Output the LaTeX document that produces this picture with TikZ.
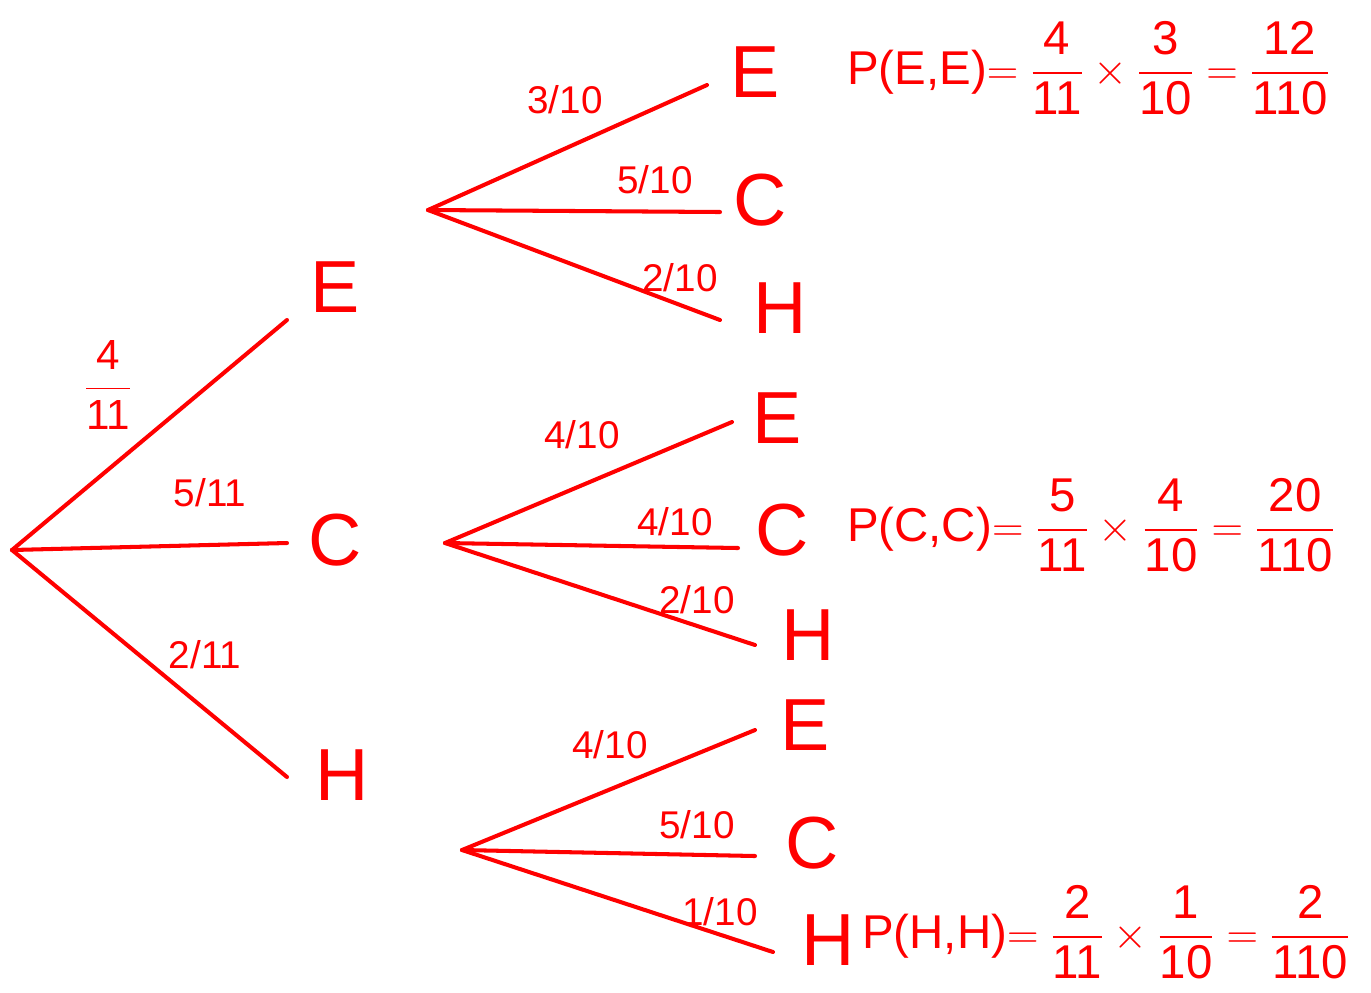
\documentclass[tikz,border=0pt]{standalone}
\usepackage{amsmath}
\usepackage{fontspec}
\setmainfont{Liberation Sans}
\usetikzlibrary{positioning, calc}
\definecolor{clrink}{HTML}{FF0000}
\newcommand{\fr}[2]{\dfrac{\textnormal{#1}}{\textnormal{#2}}}

\begin{document}
\begin{tikzpicture}[
    x=0.02cm, y=-0.02cm,
    every node/.style={text=clrink, inner sep=1pt},
    branch/.style={draw=clrink, line width=2.3pt, line cap=round},
    leaf/.style={font=\fontsize{42}{46}\selectfont},
    prob/.style={font=\fontsize{22}{24}\selectfont},
    eqn/.style={font=\fontsize{27}{30}\selectfont, anchor=west, color=clrink},
]
\useasboundingbox (0,0) rectangle (1371,992);
% first stage
\coordinate (r_0) at (12,550);
\coordinate (t_1) at (287,320);
\coordinate (t_2) at (287,543);
\coordinate (t_3) at (287,777);
\node[leaf] (n_1) at (335,287) {E};
\node[leaf] (n_2) at (335,540) {C};
\node[leaf] (n_3) at (342,775) {H};
\draw[branch] (r_0) -- (t_1);
\draw[branch] (r_0) -- (t_2);
\draw[branch] (r_0) -- (t_3);
\node[prob, font=\fontsize{24}{26}\selectfont, color=clrink] (p_1) at (108,385) {$\fr{4}{11}$};
\node[prob] (p_2) at (210,493) {5/11};
\node[prob] (p_3) at (205,655) {2/11};
% second stage after E
\coordinate (r_1) at (428,210);
\coordinate (t_11) at (707,85);
\coordinate (t_12) at (720,212);
\coordinate (t_13) at (720,320);
\node[leaf] (n_11) at (755,72) {E};
\node[leaf] (n_12) at (760,200) {C};
\node[leaf] (n_13) at (780,308) {H};
\draw[branch] (r_1) -- (t_11);
\draw[branch] (r_1) -- (t_12);
\draw[branch] (r_1) -- (t_13);
\node[prob] (p_11) at (565,100) {3/10};
\node[prob] (p_12) at (655,180) {5/10};
\node[prob] (p_13) at (680,278) {2/10};
% second stage after C
\coordinate (r_2) at (445,543);
\coordinate (t_21) at (732,422);
\coordinate (t_22) at (738,548);
\coordinate (t_23) at (755,645);
\node[leaf] (n_21) at (777,418) {E};
\node[leaf] (n_22) at (782,530) {C};
\node[leaf] (n_23) at (808,635) {H};
\draw[branch] (r_2) -- (t_21);
\draw[branch] (r_2) -- (t_22);
\draw[branch] (r_2) -- (t_23);
\node[prob] (p_21) at (582,435) {4/10};
\node[prob] (p_22) at (675,522) {4/10};
\node[prob] (p_23) at (697,600) {2/10};
% second stage after H
\coordinate (r_3) at (462,850);
\coordinate (t_31) at (755,730);
\coordinate (t_32) at (755,856);
\coordinate (t_33) at (773,952);
\node[leaf] (n_31) at (805,725) {E};
\node[leaf] (n_32) at (812,843) {C};
\node[leaf] (n_33) at (828,940) {H};
\draw[branch] (r_3) -- (t_31);
\draw[branch] (r_3) -- (t_32);
\draw[branch] (r_3) -- (t_33);
\node[prob] (p_31) at (610,745) {4/10};
\node[prob] (p_32) at (697,825) {5/10};
\node[prob] (p_33) at (720,912) {1/10};
% results
\node[eqn] (e_1) at (845,68) {P(E,E)$=\fr{4}{11}\times\fr{3}{10}=\fr{12}{110}$};
\node[eqn] (e_2) at (845,525) {P(C,C)$=\fr{5}{11}\times\fr{4}{10}=\fr{20}{110}$};
\node[eqn] (e_3) at (860,932) {P(H,H)$=\fr{2}{11}\times\fr{1}{10}=\fr{2}{110}$};
\end{tikzpicture}
\end{document}
